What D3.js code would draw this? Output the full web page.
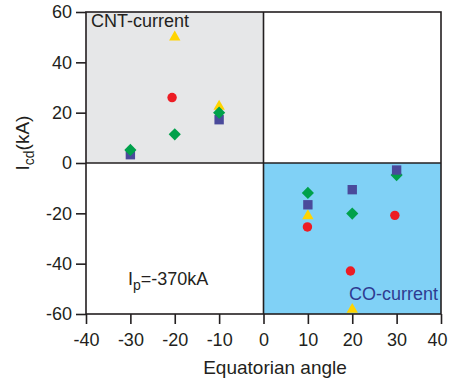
<!DOCTYPE html>
<html>
<head>
<meta charset="utf-8">
<script src="https://cdn.jsdelivr.net/npm/d3@7"></script>
<style>
  html, body { margin: 0; padding: 0; background: #fff; }
  svg { display: block; font-family: "Liberation Sans", Arial, Helvetica, sans-serif; }
</style>
</head>
<body>
<svg id="chart" width="450" height="385"></svg>
<script>
// Current driven in the divertor coils vs. equatorial angle of the probe
const xTicks = [-40, -30, -20, -10, 0, 10, 20, 30, 40];
const yTicks = [-60, -40, -20, 0, 20, 40, 60];

// yellow triangles
const triAngle = [-20, -10, 10, 20];
const triValue = [50, 22.5, -21, -58.2];
// red circles
const circAngle = [-20.6, 9.9, 19.6, 29.6];
const circValue = [26, -25.4, -42.9, -20.8];
// blue squares
const sqAngle = [-30, -10, 10, 20, 30];
const sqValue = [3.3, 17.2, -16.6, -10.6, -2.8];
// green diamonds
const diaAngle = [-30, -20, -10, 10, 20, 30];
const diaValue = [5.2, 11.4, 20, -11.9, -20.1, -4.8];

const ink = "#231f20";
const margin = { left: 86, right: 9, top: 12, bottom: 71 };
const W = 450, H = 385;

const svg = d3.select("#chart");
const x = d3.scaleLinear().domain([-40, 40]).range([margin.left, W - margin.right]);
const y = d3.scaleLinear().domain([-60, 60]).range([H - margin.bottom, margin.top]);

// shaded quadrants: co-current (lower right) and counter-current (upper left)
svg.append("rect")
  .attr("x", x(-40)).attr("y", y(60))
  .attr("width", x(0) - x(-40)).attr("height", y(0) - y(60))
  .attr("fill", "#e6e7e8");
svg.append("rect")
  .attr("x", x(0)).attr("y", y(0))
  .attr("width", x(40) - x(0)).attr("height", y(-60) - y(0))
  .attr("fill", "#80d1f6");

// zero lines
svg.append("line").attr("x1", x(0)).attr("x2", x(0)).attr("y1", y(60)).attr("y2", y(-60))
  .attr("stroke", ink).attr("stroke-width", 1.6);
svg.append("line").attr("x1", x(-40)).attr("x2", x(40)).attr("y1", y(0)).attr("y2", y(0))
  .attr("stroke", ink).attr("stroke-width", 1.6);

// frame
svg.append("rect")
  .attr("x", x(-40)).attr("y", y(60))
  .attr("width", x(40) - x(-40)).attr("height", y(-60) - y(60))
  .attr("fill", "none").attr("stroke", ink).attr("stroke-width", 1.6);

// axes (plain hyphen for negative numbers)
const fmt = d => String(d);
const xAxis = svg.append("g")
  .attr("transform", `translate(0,${y(-60)})`)
  .call(d3.axisBottom(x).tickValues(xTicks).tickFormat(fmt).tickSize(10).tickPadding(9).tickSizeOuter(0));
const yAxis = svg.append("g")
  .attr("transform", `translate(${x(-40)},0)`)
  .call(d3.axisLeft(y).tickValues(yTicks).tickFormat(fmt).tickSize(10).tickPadding(4).tickSizeOuter(0));
[xAxis, yAxis].forEach(g => {
  g.select(".domain").remove();
  g.selectAll(".tick line").attr("stroke", ink).attr("stroke-width", 1.6);
  g.selectAll(".tick text").attr("fill", ink).style("font-size", "18px")
    .style("font-family", "\"Liberation Sans\", Arial, sans-serif");
});
// keep the last x label inside the page
xAxis.selectAll(".tick").filter(d => d === 40).select("text")
  .attr("text-anchor", "end").attr("x", 6);

// markers
const symbols = {
  triangle: { type: d3.symbolTriangle, size: 56, color: "#ffd400", rot: 0 },
  circle:   { type: d3.symbolCircle,   size: 70, color: "#ed1c24", rot: 0 },
  square:   { type: d3.symbolSquare,   size: 88, color: "#4a4a9b", rot: 0 },
  diamond:  { type: d3.symbolSquare,   size: 74, color: "#00a14b", rot: 45 }
};
const series = [
  { key: "triangle", xs: triAngle,  ys: triValue },
  { key: "circle",   xs: circAngle, ys: circValue },
  { key: "square",   xs: sqAngle,   ys: sqValue },
  { key: "diamond",  xs: diaAngle,  ys: diaValue }
];
// stacking order differs between the two current regimes
const layerCNT = { triangle: 0, circle: 1, square: 2, diamond: 3 };
const layerCO  = { triangle: 0, circle: 1, diamond: 2, square: 3 };
const points = [];
series.forEach(s => s.xs.forEach((a, i) => {
  const v = s.ys[i];
  points.push({ key: s.key, a, v, layer: a < 0 ? layerCNT[s.key] : 10 + layerCO[s.key] });
}));
points.sort((p, q) => p.layer - q.layer);

svg.append("g").selectAll("path").data(points).join("path")
  .attr("d", d => d3.symbol(symbols[d.key].type, symbols[d.key].size)())
  .attr("transform", d => `translate(${x(d.a)},${y(d.v)}) rotate(${symbols[d.key].rot})`)
  .attr("fill", d => symbols[d.key].color);

// region labels
svg.append("text").attr("x", x(-40) + 5).attr("y", y(60) + 15)
  .attr("fill", ink).style("font-size", "18px").text("CNT-current");
svg.append("text").attr("x", x(40) - 3).attr("y", y(-60) - 14)
  .attr("text-anchor", "end").attr("fill", "#2e3b91").style("font-size", "18px").text("CO-current");

const ip = svg.append("text").attr("x", 128).attr("y", 285).attr("fill", ink).style("font-size", "18px");
ip.append("tspan").text("I");
ip.append("tspan").attr("dy", 5).style("font-size", "14px").text("p");
ip.append("tspan").attr("dy", -5).text("=-370kA");

// axis titles
svg.append("text").attr("x", 275).attr("y", 374).attr("text-anchor", "middle")
  .attr("fill", ink).style("font-size", "19px").text("Equatorian angle");

const yl = svg.append("text")
  .attr("transform", "translate(29,143) rotate(-90)")
  .attr("text-anchor", "middle").attr("fill", ink).style("font-size", "19px");
yl.append("tspan").text("I");
yl.append("tspan").attr("dy", 5).style("font-size", "14px").text("cd");
yl.append("tspan").attr("dy", -5).text("(kA)");
</script>
</body>
</html>
